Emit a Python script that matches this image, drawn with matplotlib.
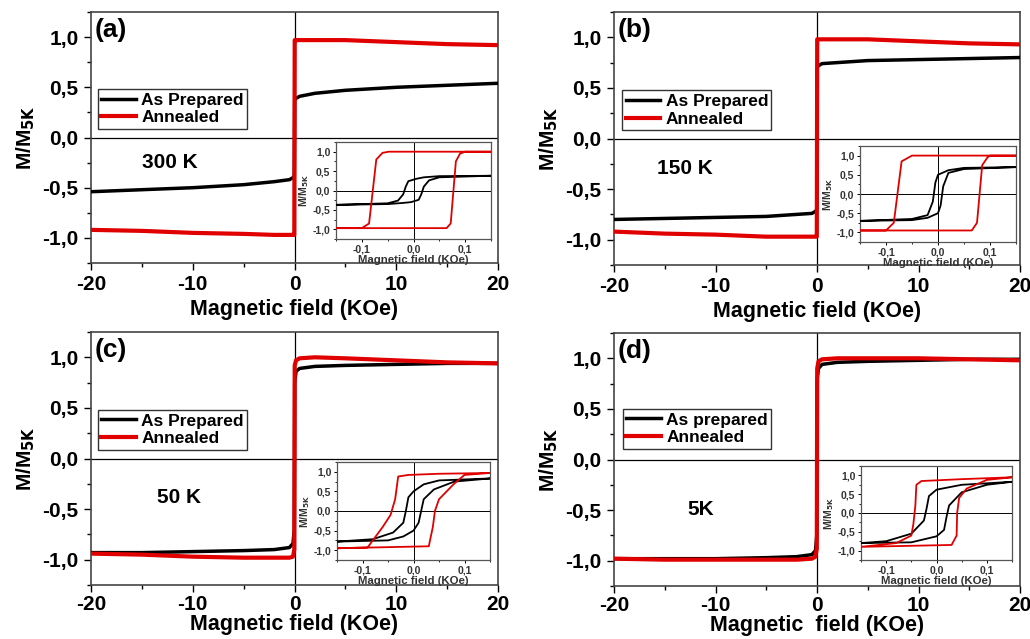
import numpy as np
import matplotlib
matplotlib.use("Agg")
import matplotlib.pyplot as plt
from matplotlib.ticker import MultipleLocator, FuncFormatter

plt.rcParams['font.family'] = ['Liberation Sans', 'DejaVu Sans']
plt.rcParams['font.weight'] = 'bold'
plt.rcParams['axes.unicode_minus'] = False

# ---- main panels: field (kOe) and normalised moment ----
main_field = [-20, -15, -10, -5, -2, -0.5, -0.15, -0.02, 0.02, 0.15, 0.5, 2, 5, 10, 15, 20]

a_prep = [-0.54, -0.52, -0.50, -0.47, -0.44, -0.42, -0.40, -0.38, 0.38, 0.39, 0.41, 0.44, 0.47, 0.50, 0.52, 0.54]
a_ann = [-0.92, -0.93, -0.95, -0.96, -0.97, -0.97, -0.97, -0.97, 0.97, 0.97, 0.97, 0.97, 0.97, 0.95, 0.93, 0.92]
b_prep = [-0.80, -0.79, -0.78, -0.77, -0.75, -0.74, -0.72, -0.70, 0.70, 0.72, 0.74, 0.75, 0.77, 0.78, 0.79, 0.80]
b_ann = [-0.92, -0.94, -0.95, -0.97, -0.97, -0.97, -0.97, -0.97, 0.98, 0.98, 0.98, 0.98, 0.98, 0.96, 0.94, 0.93]
c_prep = [-0.93, -0.93, -0.92, -0.91, -0.90, -0.88, -0.84, -0.70, 0.75, 0.86, 0.89, 0.91, 0.92, 0.93, 0.94, 0.94]
c_ann = [-0.94, -0.95, -0.97, -0.98, -0.98, -0.98, -0.97, -0.90, 0.92, 0.97, 0.99, 1.00, 0.99, 0.97, 0.95, 0.94]
d_prep = [-0.98, -0.98, -0.98, -0.97, -0.96, -0.94, -0.90, -0.75, 0.80, 0.90, 0.94, 0.96, 0.97, 0.98, 0.99, 0.99]
d_ann = [-0.98, -0.99, -0.99, -0.99, -0.99, -0.98, -0.96, -0.88, 0.90, 0.97, 0.99, 1.00, 1.00, 1.00, 0.99, 0.98]

# ---- inset loops: descending then ascending branch ----
a_prep_loop_x = [0.15, 0.05, 0.02, 0.005, -0.01, -0.015, -0.02, -0.03, -0.05, -0.15,
                 -0.05, -0.02, -0.005, 0.01, 0.015, 0.02, 0.03, 0.05, 0.15]
a_prep_loop_y = [0.38, 0.37, 0.34, 0.30, 0.24, 0.10, -0.10, -0.26, -0.33, -0.37,
                 -0.35, -0.32, -0.30, -0.24, -0.10, 0.10, 0.26, 0.34, 0.38]
a_ann_loop_x = [0.15, -0.048, -0.06, -0.072, -0.086, -0.10, -0.15,
                0.064, 0.072, 0.082, 0.09, 0.10, 0.15]
a_ann_loop_y = [1.0, 1.0, 0.97, 0.80, -0.85, -0.97, -0.97,
                -0.97, -0.85, 0.75, 0.95, 1.0, 1.0]

b_prep_loop_x = [0.15, 0.05, 0.02, 0.0, -0.005, -0.01, -0.02, -0.05, -0.15,
                 -0.05, -0.02, 0.0, 0.005, 0.01, 0.02, 0.05, 0.15]
b_prep_loop_y = [0.70, 0.68, 0.62, 0.50, 0.30, -0.20, -0.55, -0.65, -0.70,
                 -0.68, -0.62, -0.50, -0.30, 0.20, 0.55, 0.65, 0.70]
b_ann_loop_x = [0.15, -0.05, -0.07, -0.085, -0.10, -0.15,
                0.065, 0.075, 0.085, 0.095, 0.10, 0.15]
b_ann_loop_y = [1.0, 1.0, 0.85, -0.75, -0.95, -0.95,
                -0.95, -0.75, 0.75, 0.95, 1.0, 1.0]

c_prep_loop_x = [0.15, 0.05, 0.02, 0.0, -0.01, -0.015, -0.02, -0.04, -0.08, -0.15,
                 -0.05, -0.02, 0.0, 0.01, 0.015, 0.02, 0.04, 0.08, 0.15]
c_prep_loop_y = [0.83, 0.78, 0.68, 0.50, 0.35, 0.0, -0.30, -0.55, -0.72, -0.78,
                 -0.75, -0.65, -0.50, -0.30, 0.0, 0.30, 0.55, 0.75, 0.83]
c_ann_loop_x = [0.15, 0.05, -0.01, -0.03, -0.036, -0.045, -0.06, -0.09, -0.15,
                0.03, 0.038, 0.042, 0.05, 0.08, 0.10, 0.15]
c_ann_loop_y = [0.97, 0.95, 0.92, 0.88, 0.30, -0.10, -0.40, -0.93, -0.95,
                -0.90, -0.40, 0.0, 0.30, 0.70, 0.92, 0.97]

d_prep_loop_x = [0.15, 0.05, 0.0, -0.015, -0.02, -0.025, -0.05, -0.10, -0.15,
                 -0.05, 0.0, 0.015, 0.02, 0.025, 0.05, 0.10, 0.15]
d_prep_loop_y = [0.83, 0.75, 0.62, 0.45, 0.10, -0.20, -0.55, -0.75, -0.80,
                 -0.78, -0.62, -0.45, -0.10, 0.20, 0.55, 0.75, 0.83]
d_ann_loop_x = [0.15, 0.05, -0.03, -0.04, -0.042, -0.046, -0.05, -0.08, -0.15,
                0.03, 0.04, 0.041, 0.045, 0.06, 0.10, 0.15]
d_ann_loop_y = [0.95, 0.90, 0.85, 0.75, 0.20, -0.30, -0.60, -0.80, -0.90,
                -0.85, -0.60, 0.0, 0.40, 0.65, 0.88, 0.95]

panel_tags = ['(a)', '(b)', '(c)', '(d)']
temps = ['300 K', '150 K', '50 K', '5K']
temp_pos = [(-12.3, -0.25), (-13.0, -0.30), (-11.4, -0.39), (-11.5, -0.49)]
prep_labels = ['As Prepared', 'As Prepared', 'As Prepared', 'As prepared']
xlabels = ['Magnetic field (KOe)', 'Magnetic field (KOe)', 'Magnetic field (KOe)', 'Magnetic  field (KOe)']

W, H = 1030, 639
fig = plt.figure(figsize=(W / 100, H / 100), dpi=100)


def px_axes(l, t, r, b):
    return fig.add_axes([l / W, 1 - b / H, (r - l) / W, (b - t) / H])


comma = FuncFormatter(lambda v, p: f'{v:.1f}'.replace('.', ','))

main_boxes = [(91, 12, 498, 263), (614, 12, 1020, 265), (91, 332, 498, 585), (614, 333, 1020, 586)]
inset_boxes = [(336, 142, 491, 239), (860, 146, 1016, 242), (337, 462, 490, 560), (861, 466, 1012, 560)]
leg_anchor = [(0.017, 0.693), (0.02, 0.69), (0.017, 0.692), (0.022, 0.70)]
xlabel_pad = [3, 3, 0, 0]
xtick_pad = [4, 4, 2, 2]

mains = [(a_prep, a_ann), (b_prep, b_ann), (c_prep, c_ann), (d_prep, d_ann)]
loops = [(a_prep_loop_x, a_prep_loop_y, a_ann_loop_x, a_ann_loop_y),
         (b_prep_loop_x, b_prep_loop_y, b_ann_loop_x, b_ann_loop_y),
         (c_prep_loop_x, c_prep_loop_y, c_ann_loop_x, c_ann_loop_y),
         (d_prep_loop_x, d_prep_loop_y, d_ann_loop_x, d_ann_loop_y)]

red = '#e00000'
for i in range(4):
    ax = px_axes(*main_boxes[i])
    prep, ann = mains[i]
    ax.axhline(0, color='k', lw=0.9, zorder=1)
    ax.axvline(0, color='k', lw=0.9, zorder=1)
    ax.plot(main_field, prep, color='k', lw=2.5, label=prep_labels[i], zorder=3)
    ax.plot(main_field, ann, color=red, lw=3, label='Annealed', zorder=4)
    ax.set_xlim(-20, 20)
    ax.set_ylim(-1.25, 1.25)
    ax.xaxis.set_major_locator(MultipleLocator(10))
    ax.xaxis.set_minor_locator(MultipleLocator(5))
    ax.yaxis.set_major_locator(MultipleLocator(0.5))
    ax.yaxis.set_minor_locator(MultipleLocator(0.25))
    ax.yaxis.set_major_formatter(comma)
    ax.tick_params(which='major', length=5, width=1, labelsize=15, pad=4)
    ax.tick_params(axis='x', which='major', pad=xtick_pad[i])
    ax.tick_params(which='minor', length=3, width=1)
    for lab in ax.get_xticklabels() + ax.get_yticklabels():
        lab.set_fontweight('bold')
    for s in ax.spines.values():
        s.set_color('#444444')
        s.set_linewidth(1.2)
    ax.set_xlabel(xlabels[i], fontsize=15.5, fontweight='bold', labelpad=xlabel_pad[i])
    ax.set_ylabel('M/M$_{\\mathbf{5K}}$', fontsize=15, fontweight='bold', labelpad=4)
    ax.text(0.01, 0.975, panel_tags[i], transform=ax.transAxes, fontsize=19,
            fontweight='bold', va='top', ha='left')
    ax.text(*temp_pos[i], temps[i], fontsize=15, fontweight='bold', ha='center', va='center')
    leg = ax.legend(loc='upper left', bbox_to_anchor=leg_anchor[i], fancybox=False,
                    edgecolor='#333333', framealpha=1, handlelength=2.0, handletextpad=0.3,
                    borderpad=0.2, labelspacing=0.15, borderaxespad=0,
                    prop={'weight': 'bold', 'size': 12.5})
    leg.get_frame().set_linewidth(1.0)

    ix = px_axes(*inset_boxes[i])
    px_, py_, rx_, ry_ = loops[i]
    ix.axhline(0, color='k', lw=0.7, zorder=1)
    ix.axvline(0, color='k', lw=0.7, zorder=1)
    ix.plot(px_, py_, color='k', lw=1.3, zorder=3)
    ix.plot(rx_, ry_, color=red, lw=1.3, zorder=4)
    ix.set_xlim(-0.15, 0.15)
    ix.set_ylim(-1.25, 1.25)
    ix.xaxis.set_major_locator(MultipleLocator(0.1))
    ix.xaxis.set_minor_locator(MultipleLocator(0.05))
    ix.yaxis.set_major_locator(MultipleLocator(0.5))
    ix.yaxis.set_minor_locator(MultipleLocator(0.25))
    ix.xaxis.set_major_formatter(comma)
    ix.yaxis.set_major_formatter(comma)
    ix.tick_params(which='major', length=2.5, width=0.7, labelsize=7.5, pad=1.5, labelcolor='#333333')
    ix.tick_params(which='minor', length=1.5, width=0.6)
    for s in ix.spines.values():
        s.set_color('#555555')
        s.set_linewidth(0.9)
    ix.set_xlabel('Magnetic field (KOe)', fontsize=8.2, fontweight='bold', labelpad=0, color='#333333')
    ix.set_ylabel('M/M$_{\\mathbf{5K}}$', fontsize=7.5, fontweight='bold', labelpad=1, color='#333333')

fig.savefig('out.png', dpi=100)
